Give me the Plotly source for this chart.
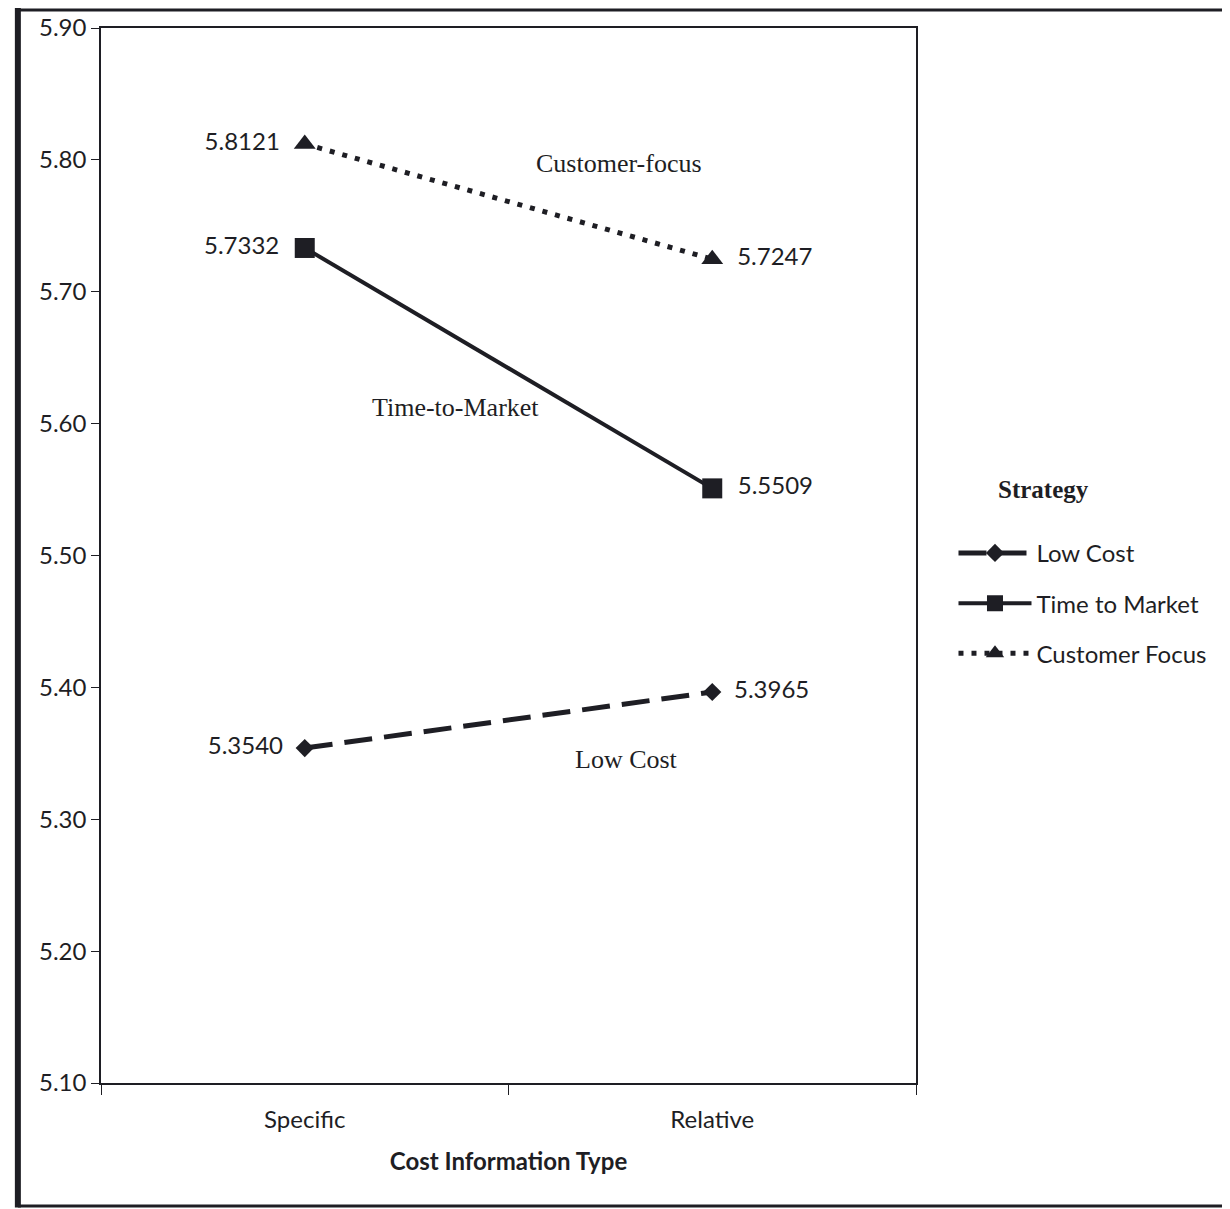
import plotly.graph_objects as go

categories = ["Specific", "Relative"]
low_cost = [5.3540, 5.3965]
time_to_market = [5.7332, 5.5509]
customer_focus = [5.8121, 5.7247]
series_names = ["Low Cost", "Time to Market", "Customer Focus"]
line_labels = ["Low Cost", "Time-to-Market", "Customer-focus"]
y_ticks = [5.10, 5.20, 5.30, 5.40, 5.50, 5.60, 5.70, 5.80, 5.90]

INK = "#1e1e24"
SANS = "Lato, 'Noto Sans', sans-serif"
SERIF = "'Liberation Serif', 'DejaVu Serif', serif"

fig = go.Figure()

styles = [
    (low_cost, series_names[0], "diamond", 14, dict(color=INK, width=5, dash="28px,12px")),
    (time_to_market, series_names[1], "square", 20, dict(color=INK, width=4)),
    (customer_focus, series_names[2], "triangle-up", 19, dict(color=INK, width=5, dash="5px,8px")),
]

for vals, name, sym, size, line in styles:
    fig.add_trace(go.Scatter(
        x=categories, y=vals, name=name, legendgroup=name,
        mode="lines+markers+text",
        line=line,
        marker=dict(symbol=sym, size=size, color=INK),
        text=[f"{vals[0]:.4f}\u2002", f"\u2002{vals[1]:.4f}"],
        textposition=["middle left", "middle right"],
        textfont=dict(family=SANS, size=24, color=INK),
        cliponaxis=False,
    ))

# in-plot series labels
fig.add_annotation(x=0.77, y=5.797, xref="x", yref="y", text=line_labels[2], showarrow=False,
                   font=dict(family=SERIF, size=26, color=INK))
fig.add_annotation(x=0.37, y=5.612, xref="x", yref="y", text=line_labels[1], showarrow=False,
                   font=dict(family=SERIF, size=26, color=INK))
fig.add_annotation(x=0.79, y=5.345, xref="x", yref="y", text=line_labels[0], showarrow=False,
                   font=dict(family=SERIF, size=26, color=INK))

# scanned page border (left, top, bottom edges)
for x0, y0, x1, y1, w in [(-0.102, -0.118, -0.102, 1.02, 6),
                          (-0.102, 1.017, 1.40, 1.017, 3),
                          (-0.102, -0.1165, 1.40, -0.1165, 3)]:
    fig.add_shape(type="line", xref="paper", yref="paper", x0=x0, y0=y0, x1=x1, y1=y1,
                  line=dict(color=INK, width=w), layer="below")

fig.update_layout(
    width=1230, height=1209,
    margin=dict(l=93, r=322, t=20, b=134, autoexpand=False),
    paper_bgcolor="white", plot_bgcolor="white",
    font=dict(family=SANS, size=24, color=INK),
    showlegend=True,
    legend=dict(
        title=dict(text="\u2003\u2002\u2009<b>Strategy</b><br> ", font=dict(family=SERIF, size=25, color=INK)),
        x=1.046, y=0.585, xanchor="left", yanchor="top",
        font=dict(family=SANS, size=24, color=INK),
        itemwidth=73, tracegroupgap=16,
        bgcolor="rgba(0,0,0,0)",
    ),
    xaxis=dict(
        type="category", range=[-0.5, 1.5], automargin=False,
        showline=True, linecolor=INK, linewidth=1.5, mirror=True,
        ticks="outside", ticklen=10, tickcolor=INK, tickson="boundaries",
        ticklabelstandoff=14,
        showgrid=False, zeroline=False,
        tickfont=dict(family=SANS, size=24, color=INK),
        title=dict(text="<b>Cost Information Type</b>", font=dict(family=SANS, size=24, color=INK), standoff=22),
    ),
    yaxis=dict(
        range=[5.10, 5.90], tickvals=y_ticks, tickformat=".2f", automargin=False,
        showline=True, linecolor=INK, linewidth=1.5, mirror=True,
        ticks="outside", ticklen=8, tickcolor=INK,
        showgrid=False, zeroline=False,
        tickfont=dict(family=SANS, size=24, color=INK),
    ),
)

fig.write_html("out.html")
